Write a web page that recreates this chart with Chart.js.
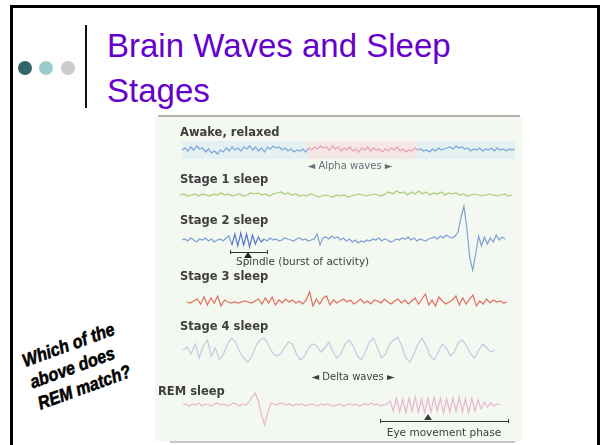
<!DOCTYPE html>
<html>
<head>
<meta charset="utf-8">
<script src="https://cdn.jsdelivr.net/npm/chart.js@4.4.0/dist/chart.umd.min.js"></script>
<style>
  html, body { margin: 0; padding: 0; background: #fff; overflow: hidden; }
  body { width: 600px; height: 445px; position: relative; font-family: "Liberation Sans", Arial, sans-serif; }
  .frame { position: absolute; left: 10px; top: 5px; width: 584px; height: 460px; border: 3px solid #000; }
  .dot { position: absolute; top: 61px; width: 14px; height: 14px; border-radius: 50%; }
  .bar { position: absolute; left: 85px; top: 25px; width: 2px; height: 83px; background: #111; }
  .title { position: absolute; left: 107px; top: 23px; font-size: 33px; line-height: 45px; color: #6600cc; white-space: nowrap; }
  .question { position: absolute; left: 19px; top: 351px; font-size: 17px; line-height: 21px; font-weight: bold; font-style: italic;
              color: #000; transform: rotate(-20deg) scale(0.95, 1.08); transform-origin: 0 0; white-space: nowrap; -webkit-text-stroke: 0.5px #000; }
  #eeg { position: absolute; left: 155px; top: 115px; }
</style>
</head>
<body>
<div class="frame"></div>
<div class="dot" style="left:18px;background:#336666"></div>
<div class="dot" style="left:39px;background:#99cccc"></div>
<div class="dot" style="left:61px;background:#cccccc"></div>
<div class="bar"></div>
<div class="title">Brain Waves and Sleep<br>Stages</div>
<div class="question">Which of the<br>above does<br>REM match?</div>
<canvas id="eeg" width="370" height="330"></canvas>
<script>
// trace names, top to bottom
const stageNames = ['Awake, relaxed', 'Stage 1 sleep', 'Stage 2 sleep', 'Stage 3 sleep', 'Stage 4 sleep', 'REM sleep'];

// sampled deflections of each trace (up is positive)
const awakeWave = [0,2,-1,3,0,4,1,2,-2,1,-3,-1,-4,0,-2,2,-1,3,0,2,-1,3,1,4,0,3,-1,2,-2,3,1,4,2,3,0,2,-1,1,-2,0,-1,1,-2,2,
  0,3,1,4,2,3,0,4,1,3,-1,2,0,3,-1,1,-2,2,0,3,-1,2,0,1,-2,1,-1,2,0,3,-1,1,-2,0,-1,2,0,1,
  -1,0,-2,1,-1,2,0,1,2,3,1,4,2,3,1,2,-1,1,0,2,-1,1,0,2,-1,2,0,1,-1,1,0,1];
const stage1Wave = [0,1,-1,0,1,-1,1,0,-1,1,0,2,0,1,-1,0,1,-1,0,2,1,2,0,1,-1,1,2,3,1,2,0,1,-1,0,-1,1,0,-2,-1,0,-1,-2,0,-1,0,-2,
  -1,0,1,0,-1,0,1,0,-1,1,3,1,4,2,3,0,3,1,4,1,3,0,2,1,3,0,2,1,2,0,1,-1,0,1,0,-1,0,1,0,-1,0,1,-1,0];
const stage2Wave = [0,1,-1,2,0,-2,1,0,2,-1,1,-2,0,1,-1,2,
  4,-5,6,-6,7,-5,6,-7,5,-4,3,-2,
  1,-1,2,0,1,-1,0,2,1,0,-1,1,2,0,1,-1,0,1,
  6,-5,2,
  3,1,4,2,3,0,2,-1,1,-2,0,-3,-1,-2,0,-1,1,0,2,-1,1,0,-2,-1,1,0,2,1,3,0,2,-1,1,0,-1,1,2,3,1,4,2,5,3,2,4,
  8,22,34,12,-18,-30,-14,4,
  -6,3,-4,2,-2,5,0,3,1];
const stage3Wave = [0,-1,1,3,-2,5,-3,4,-1,6,-4,2,0,-1,0,-1,0,1,0,-1,1,3,-2,4,-1,5,-3,2,-1,3,0,2,-1,1,-2,2,10,-4,3,-2,4,6,-3,2,
  -1,1,3,0,2,-2,0,3,-1,1,-2,2,1,-1,3,0,-2,1,3,-1,2,-2,1,4,-2,3,8,-3,2,-4,5,1,-2,0,2,6,-3,4,-2,3,7,-4,1,-2,3,-1,2,0,1,-1,0];
const stage4Wave = [0,3,-4,6,-8,4,10,-6,2,-10,-4,6,12,8,-2,-8,-12,-6,4,10,12,6,-2,-6,-4,2,8,6,-4,-10,-6,2,6,4,-2,2,8,-2,-8,-4,
  6,10,4,-6,-10,-2,8,12,2,-8,-4,6,10,13,4,-8,-12,-4,6,12,4,-6,-10,-2,6,2,-6,-2,8,10,4,-4,-8,0,6,2,-2,0];
const remWave = [0,1,-1,1,0,2,-1,1,0,-1,1,2,0,1,-1,0,2,1,-1,1,0,
  3,8,12,4,-10,-20,-8,2,
  1,0,2,1,0,1,-1,1,0,1,-1,0,1,0,-1,1,0,1,0,-1,0,1,-1,0,1,0,1,-1,0,1,0,2,0,1,-1,0,1,
  4,-6,7,-7,6,-8,7,-6,8,-7,6,-8,7,-7,8,-6,7,-8,6,-7,7,-6,8,-7,6,-8,7,-6,5,-4,3,-2,2,-1,1,0];

const waves = [awakeWave, stage1Wave, stage2Wave, stage3Wave, stage4Wave, remWave];

// layout of the panel (chart units: x = px from panel left, y = px from panel bottom)
const traceStart = [27, 25, 27, 32, 28, 28];
const traceEnd = [360, 357, 350, 352, 340, 345];
const traceBase = [295, 250, 205, 143, 95, 40];
const traceColor = ['#7aa6da', '#a9cc72', '#7f9fd6', '#e06f5e', '#c6c9e2', '#e8b6cf'];
const alphaRange = [152, 262];
const spindleRange = [75, 108];

function buildPoints(values, x0, x1, base) {
  const step = (x1 - x0) / (values.length - 1);
  return values.map((v, i) => ({ x: x0 + i * step, y: base + v }));
}

const datasets = waves.map((w, k) => ({
  label: stageNames[k],
  data: buildPoints(w, traceStart[k], traceEnd[k], traceBase[k]),
  borderColor: traceColor[k],
  borderWidth: 1.2,
  pointRadius: 0,
  tension: 0
}));

datasets[0].segment = {
  borderColor: ctx => (ctx.p0.parsed.x >= alphaRange[0] && ctx.p0.parsed.x < alphaRange[1]) ? '#e8a0ac' : '#7aa6da'
};
datasets[2].segment = {
  borderColor: ctx => (ctx.p0.parsed.x >= spindleRange[0] && ctx.p0.parsed.x < spindleRange[1]) ? '#5b78c8' : '#7f9fd6'
};

const panelPlugin = {
  id: 'panel',
  beforeDraw(chart) {
    const { ctx, width, height } = chart;
    ctx.save();
    ctx.fillStyle = '#f3f8f1';
    ctx.fillRect(0, 2, 367, height - 6);
    ctx.fillStyle = '#b0b2b0';
    ctx.fillRect(3, 0, 362, 2);
    ctx.fillStyle = '#c4c6c4';
    ctx.fillRect(15, 326, 345, 2);
    ctx.restore();
  },
  beforeDatasetsDraw(chart) {
    const { ctx, scales: { x, y } } = chart;
    ctx.save();
    const top = y.getPixelForValue(traceBase[0] + 9), bot = y.getPixelForValue(traceBase[0] - 9);
    ctx.fillStyle = 'rgba(200,222,245,0.3)';
    ctx.fillRect(x.getPixelForValue(traceStart[0]), top, x.getPixelForValue(alphaRange[0]) - x.getPixelForValue(traceStart[0]), bot - top);
    ctx.fillRect(x.getPixelForValue(alphaRange[1]), top, x.getPixelForValue(traceEnd[0]) - x.getPixelForValue(alphaRange[1]), bot - top);
    ctx.fillStyle = 'rgba(245,205,212,0.4)';
    ctx.fillRect(x.getPixelForValue(alphaRange[0]), top, x.getPixelForValue(alphaRange[1]) - x.getPixelForValue(alphaRange[0]), bot - top);
    ctx.restore();
  },
  afterDatasetsDraw(chart) {
    const { ctx, scales: { x, y } } = chart;
    const px = v => x.getPixelForValue(v), py = v => y.getPixelForValue(v);
    ctx.save();
    // stage names
    ctx.fillStyle = '#3e3e3e';
    ctx.font = 'bold 11.5px "DejaVu Sans"';
    ctx.textBaseline = 'alphabetic';
    const labelX = [25, 25, 25, 25, 25, 3];
    const labelY = [309, 262, 221, 165, 115, 50];
    stageNames.forEach((n, i) => ctx.fillText(n, px(labelX[i]), py(labelY[i])));

    // wave-type captions
    ctx.font = '10px "DejaVu Sans"';
    ctx.textAlign = 'center';
    ctx.textBaseline = 'middle';
    ctx.fillStyle = '#6a6e78';
    ctx.fillText('\u25C4 Alpha waves \u25BA', px(195), py(279));
    ctx.fillStyle = '#3e3e3e';
    ctx.fillText('\u25C4 Delta waves \u25BA', px(198), py(68));

    // spindle bracket
    ctx.strokeStyle = '#333';
    ctx.lineWidth = 1;
    ctx.beginPath();
    ctx.moveTo(px(75), py(193) + 0.5); ctx.lineTo(px(112), py(193) + 0.5);
    ctx.moveTo(px(75) + 0.5, py(195)); ctx.lineTo(px(75) + 0.5, py(191));
    ctx.moveTo(px(112) + 0.5, py(195)); ctx.lineTo(px(112) + 0.5, py(191));
    ctx.stroke();
    ctx.fillStyle = '#222';
    ctx.beginPath();
    ctx.moveTo(px(93), py(193)); ctx.lineTo(px(89), py(187)); ctx.lineTo(px(97), py(187)); ctx.closePath(); ctx.fill();
    ctx.textAlign = 'left';
    ctx.font = '10.5px "DejaVu Sans"';
    ctx.fillStyle = '#3e3e3e';
    ctx.fillText('Spindle (burst of activity)', px(81), py(183));

    // eye movement bracket
    ctx.beginPath();
    ctx.moveTo(px(225), py(24) + 0.5); ctx.lineTo(px(353), py(24) + 0.5);
    ctx.moveTo(px(225) + 0.5, py(26)); ctx.lineTo(px(225) + 0.5, py(22));
    ctx.moveTo(px(353) + 0.5, py(26)); ctx.lineTo(px(353) + 0.5, py(22));
    ctx.stroke();
    ctx.beginPath();
    ctx.moveTo(px(273), py(31)); ctx.lineTo(px(269), py(25)); ctx.lineTo(px(277), py(25)); ctx.closePath(); ctx.fill();
    ctx.textAlign = 'center';
    ctx.fillText('Eye movement phase', px(289), py(12));
    ctx.restore();
  }
};

new Chart(document.getElementById('eeg'), {
  type: 'line',
  data: { datasets: datasets },
  options: {
    responsive: false,
    animation: false,
    devicePixelRatio: 1,
    layout: { padding: 0 },
    scales: {
      x: { type: 'linear', min: 0, max: 370, display: false },
      y: { min: 0, max: 330, display: false }
    },
    plugins: {
      legend: { display: false },
      tooltip: { enabled: false }
    }
  },
  plugins: [panelPlugin]
});
</script>
</body>
</html>
